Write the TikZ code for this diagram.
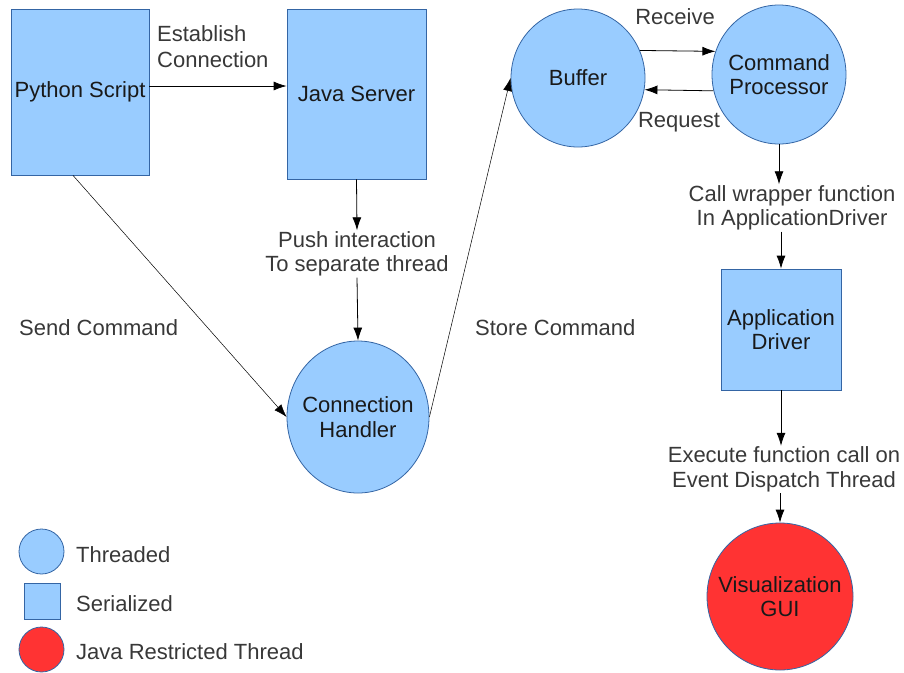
\documentclass[tikz,border=0pt]{standalone}
\usepackage{fontspec}
\setmainfont{Liberation Sans}
\usepackage{tikz}
\usetikzlibrary{calc,positioning,arrows.meta,shapes}
\definecolor{threadblue}{HTML}{99CCFF}
\definecolor{edgeblue}{HTML}{3465A4}
\definecolor{restrictred}{HTML}{FF3333}
\tikzset{>={Latex[length=13pt,width=9pt]}}

\begin{document}
\begin{tikzpicture}[x=1pt,y=-1pt,font=\fontsize{22pt}{24.5pt}\selectfont,
              blk/.style={draw=edgeblue,line width=0.8pt,fill=threadblue,text=black!90,align=center,inner sep=0pt},
              thr/.style={ellipse,draw=edgeblue,line width=0.8pt,fill=threadblue,text=black!90,align=center,inner xsep=-12pt,inner ysep=0pt},
              rst/.style={thr,fill=restrictred},
              lbl/.style={text=black!78,align=center,inner sep=1pt},
              con/.style={->,line width=0.8pt},
              lcon/.style={->,line width=0.5pt}]
              \useasboundingbox (0,0) rectangle (904,672);

              \node[blk,minimum width=138pt,minimum height=166pt] (py) at (80,92) {Python Script};
              \node[blk,minimum width=139pt,minimum height=170pt] (js) at (356.5,94) {Java Server};
              \node[thr,minimum width=134pt,minimum height=138pt] (buf) at (578,78) {Buffer};
              \node[thr,minimum width=134pt,minimum height=139pt] (cmd) at (779,74.5) {Command\\Processor};
              \node[thr,minimum width=142pt,minimum height=152pt] (ch) at (358,417) {Connection\\Handler};
              \node[blk,minimum width=120pt,minimum height=121pt] (ad) at (781,329.5) {Application\\Driver};
              \node[rst,minimum width=146pt,minimum height=147pt] (gui) at (780,596.5) {Visualization\\GUI};

              \node[lbl,align=left,anchor=west] (est) at (156,46.5) {Establish\\[1.5pt]Connection};
              \node[lbl] (rcv) at (675,17) {Receive};
              \node[lbl] (req) at (679,122) {Request};
              \node[lbl] (push) at (357,254) {Push interaction\\To separate thread};
              \node[lbl,anchor=west] (snd) at (18,328) {Send Command};
              \node[lbl,anchor=west] (sto) at (474,328) {Store Command};
              \node[lbl] (call) at (792,208) {Call wrapper function\\In ApplicationDriver};
              \node[lbl] (exe) at (784,469.5) {Execute function call on\\Event Dispatch Thread};

              \draw[con] ([yshift=6pt]py.east) -- ([yshift=6pt]py.east -| js.west);
              \draw[con] (js.south) -- (push.north);
              \draw[con] (push.south) -- (ch.north);
              \draw[lcon] ([xshift=-7pt]py.south) -- (ch.west);
              \draw[lcon] (ch.east) -- (buf.west);
              \draw[con] (buf.24) -- (cmd.160);
              \draw[con] (cmd.194) -- (buf.-10);
              \draw[con] (cmd.south) -- (cmd.south |- call.north);
              \draw[con] (call.south -| ad.north) -- (ad.north);
              \draw[con] (ad.south) -- (ad.south |- exe.north);
              \draw[con] (exe.south -| gui.north) -- (gui.north);

              \node[thr,minimum width=45pt,minimum height=45pt] (lthr) at (41.5,551.5) {};
              \node[blk,minimum width=36pt,minimum height=36pt] (lblk) at (42,601) {};
              \node[rst,minimum width=45pt,minimum height=45pt] (lrst) at (41.5,649.5) {};
              \node[lbl,anchor=west] (tthr) at (75,555) {Threaded};
              \node[lbl,anchor=west] (tblk) at (75,604) {Serialized};
              \node[lbl,anchor=west] (trst) at (75,652) {Java Restricted Thread};
             \end{tikzpicture}
\end{document}
